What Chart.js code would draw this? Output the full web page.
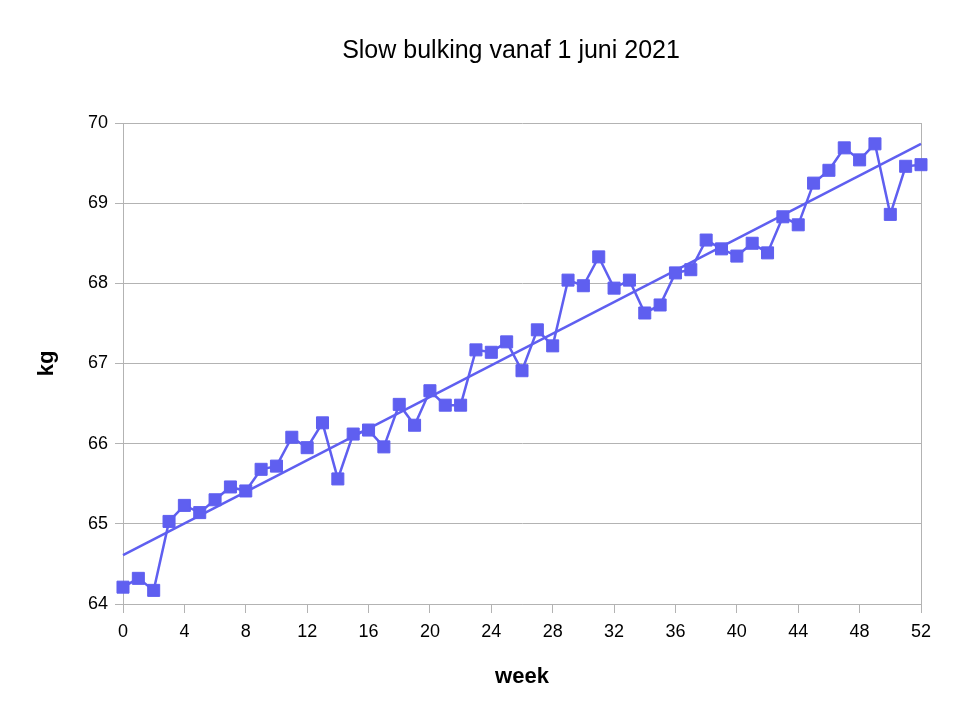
<!DOCTYPE html>
<html>
<head>
<meta charset="utf-8">
<title>Slow bulking vanaf 1 juni 2021</title>
<script src="https://cdn.jsdelivr.net/npm/chart.js@4/dist/chart.umd.min.js"></script>
<style>
  body { margin: 0; background: #fff; }
  canvas { display: block; }
</style>
</head>
<body>
<canvas id="theChart" width="972" height="722"></canvas>
<script>
'use strict';
// data
var weeks = [0, 1, 2, 3, 4, 5, 6, 7, 8, 9, 10, 11, 12, 13, 14, 15, 16, 17, 18, 19, 20, 21, 22, 23, 24, 25, 26,
  27, 28, 29, 30, 31, 32, 33, 34, 35, 36, 37, 38, 39, 40, 41, 42, 43, 44, 45, 46, 47, 48, 49, 50, 51, 52];
var kg = [64.21, 64.32, 64.17, 65.03, 65.23, 65.14, 65.30, 65.46, 65.41, 65.68, 65.72, 66.08, 65.95, 66.26,
  65.56, 66.12, 66.17, 65.96, 66.49, 66.23, 66.66, 66.48, 66.48, 67.17, 67.14, 67.27, 66.91, 67.42, 67.22,
  68.04, 67.97, 68.33, 67.94, 68.04, 67.63, 67.73, 68.13, 68.17, 68.54, 68.43, 68.34, 68.50, 68.38, 68.83,
  68.73, 69.25, 69.41, 69.69, 69.54, 69.74, 68.86, 69.46, 69.48];
// trend line ends
var trendWeeks = [0, 52];
var trendKg = [64.61, 69.74];
var xTicks = [0, 4, 8, 12, 16, 20, 24, 28, 32, 36, 40, 44, 48, 52];
var yTicks = [64, 65, 66, 67, 68, 69, 70];

var blue = '#5f5ff0';
var gray = '#b3b3b3';
var fontName = "'Liberation Sans', Arial, sans-serif";

// build points for the chart
var points = [];
for (var i = 0; i < weeks.length; i++) {
  points.push({ x: weeks[i], y: kg[i] });
}
var trend = [];
for (var j = 0; j < trendWeeks.length; j++) {
  trend.push({ x: trendWeeks[j], y: trendKg[j] });
}

var ctx = document.getElementById('theChart').getContext('2d');
var chart = new Chart(ctx, {
  type: 'line',
  data: {
    datasets: [
      {
        label: 'kg',
        data: points,
        borderColor: blue,
        backgroundColor: blue,
        borderWidth: 2.5,
        pointStyle: 'rect',
        pointRadius: 8.5,
        pointBorderWidth: 1,
        pointBorderColor: blue,
        pointBackgroundColor: blue,
        tension: 0,
        clip: false
      },
      {
        label: 'trend',
        data: trend,
        borderColor: blue,
        borderWidth: 2.5,
        pointRadius: 0,
        tension: 0,
        clip: false
      }
    ]
  },
  options: {
    responsive: false,
    animation: false,
    layout: { padding: { left: 50, right: 0, top: 0, bottom: 0 } },
    plugins: {
      legend: { display: false },
      tooltip: { enabled: false },
      title: {
        display: true,
        text: 'Slow bulking vanaf 1 juni 2021',
        color: '#000',
        font: { family: fontName, size: 25, weight: 'normal' },
        padding: { top: 36, bottom: 57 }
      }
    },
    scales: {
      x: {
        type: 'linear',
        min: 0,
        max: 52,
        afterBuildTicks: function (scale) {
          scale.ticks = xTicks.map(function (v) { return { value: v }; });
        },
        afterFit: function (scale) { scale.height = 118; },
        ticks: { color: '#000', font: { family: fontName, size: 18 }, padding: 8, maxRotation: 0 },
        grid: {
          drawOnChartArea: true,
          color: function (c) { return c.tick && c.tick.value === 52 ? gray : 'rgba(0,0,0,0)'; },
          tickColor: gray,
          tickLength: 9,
          lineWidth: 1
        },
        border: { display: true, color: gray, width: 1 },
        title: {
          display: true,
          text: 'week',
          color: '#000',
          font: { family: fontName, size: 22, weight: 'bold' },
          padding: { top: 0, bottom: 32 }
        }
      },
      y: {
        min: 64,
        max: 70,
        afterBuildTicks: function (scale) {
          scale.ticks = yTicks.map(function (v) { return { value: v }; });
        },
        afterFit: function (scale) { scale.width = 73; },
        ticks: { color: '#000', font: { family: fontName, size: 18 }, padding: 7 },
        grid: { color: gray, tickColor: gray, tickLength: 8, lineWidth: 1 },
        border: { display: true, color: gray, width: 1 },
        title: {
          display: true,
          text: 'kg',
          color: '#000',
          font: { family: fontName, size: 22, weight: 'bold' },
          padding: { top: -16, bottom: 0 }
        }
      },
      // empty space on the right side of the plot
      yRight: {
        position: 'right',
        min: 64,
        max: 70,
        afterFit: function (scale) { scale.width = 51; },
        ticks: { display: false },
        grid: { drawOnChartArea: false, drawTicks: false },
        border: { display: false }
      }
    }
  }
});
</script>
</body>
</html>
